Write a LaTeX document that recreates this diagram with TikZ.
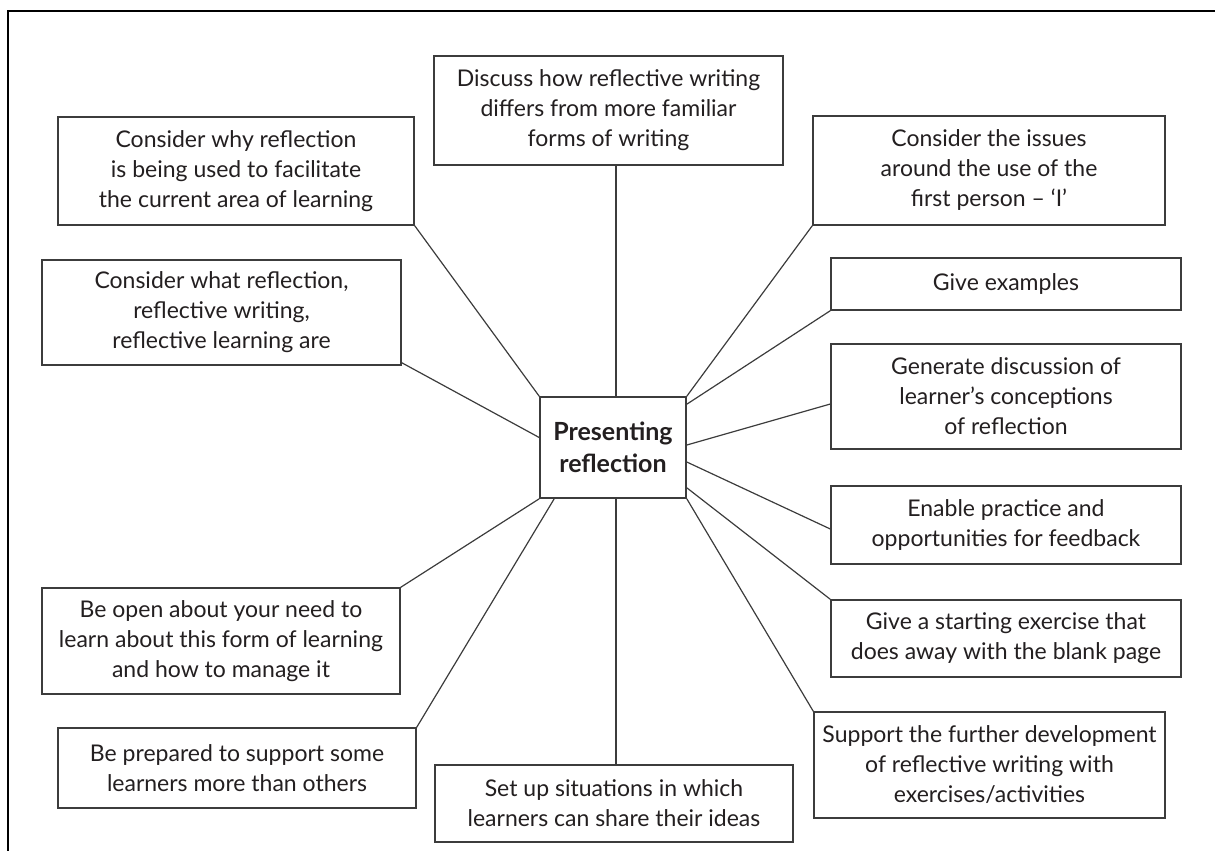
\documentclass[tikz,border=0pt]{standalone}
\usepackage{fontspec}
\setmainfont{Lato}
\usetikzlibrary{calc}
\definecolor{txt}{HTML}{231F20}
\definecolor{edge}{HTML}{3C3C3C}
\begin{document}
\begin{tikzpicture}[x=0.5pt,y=-0.5pt,
  box/.style={draw=edge,line width=0.7pt,fill=white,text=txt,align=center,inner sep=0pt,
    font=\fontsize{11.5}{15}\selectfont},
  hub/.style={draw=edge,line width=0.8pt,fill=white,text=txt,align=center,inner sep=0pt,
    font=\fontsize{12.5}{16}\selectfont\bfseries},
  link/.style={draw=edge,line width=0.6pt}]
\useasboundingbox (0,0) rectangle (1215,851);
\draw[line width=1.4pt,black] (8,851) -- (8,11) -- (1215,11);

\node[hub,minimum width=73pt,minimum height=50.5pt] (P) at (613,447.5) {Presenting\\reflection};

\node[box,minimum width=174.5pt,minimum height=54.5pt] (A) at (608.5,110.5)
  {Discuss how reflective writing\\differs from more familiar\\forms of writing};
\node[box,minimum width=178pt,minimum height=54pt] (B) at (236,171)
  {Consider why reflection\\is being used to facilitate\\the current area of learning};
\node[box,minimum width=179.5pt,minimum height=52.5pt] (C) at (221.5,312.5)
  {Consider what reflection,\\reflective writing,\\reflective learning are};
\node[box,minimum width=176pt,minimum height=54.5pt] (D) at (989,170.5)
  {Consider the issues\\around the use of the\\first person -- `I'};
\node[box,minimum width=175pt,minimum height=26pt] (E) at (1006,284)
  {Give examples};
\node[box,minimum width=175pt,minimum height=52.5pt] (F) at (1006,396.5)
  {Generate discussion of\\learner's conceptions\\of reflection};
\node[box,minimum width=175pt,minimum height=39pt] (G) at (1006,525)
  {Enable practice and\\opportunities for feedback};
\node[box,minimum width=175pt,minimum height=38.5pt] (H) at (1006,638.5)
  {Give a starting exercise that\\does away with the blank page};
\node[box,minimum width=175.5pt,minimum height=53pt] (I) at (989.5,765)
  {Support the further development\\of reflective writing with\\exercises/activities};
\node[box,minimum width=179pt,minimum height=38.5pt] (J) at (614,803.5)
  {Set up situations in which\\learners can share their ideas};
\node[box,minimum width=179pt,minimum height=40pt] (K) at (237,768)
  {Be prepared to support some\\learners more than others};
\node[box,minimum width=179pt,minimum height=53pt] (L) at (221,641)
  {Be open about your need to\\learn about this form of learning\\and how to manage it};

\draw[link] ([xshift=1.5pt]P.north) -- ([xshift=1.5pt]P.north |- A.south);
\draw[link] (B.south east) -- (P.north west);
\draw[link] ([yshift=1.5pt]C.south east) -- ([yshift=5pt]P.west);
\draw[link] (D.south west) -- (P.north east);
\draw[link] (E.south west) -- ([yshift=-4pt]P.north east);
\draw[link] ([yshift=-3.75pt]F.west) -- ([yshift=1.25pt]P.east);
\draw[link] ([yshift=-2pt]G.west) -- ([yshift=-7.25pt]P.east);
\draw[link] (H.north west) -- ([yshift=5.5pt]P.south east);
\draw[link] (I.north west) -- (P.south east);
\draw[link] ([xshift=1.5pt]P.south) -- ([xshift=1.5pt]P.south |- J.north);
\draw[link] (K.north east) -- ([xshift=7.5pt]P.south west);
\draw[link] (L.north east) -- (P.south west);
\end{tikzpicture}
\end{document}
